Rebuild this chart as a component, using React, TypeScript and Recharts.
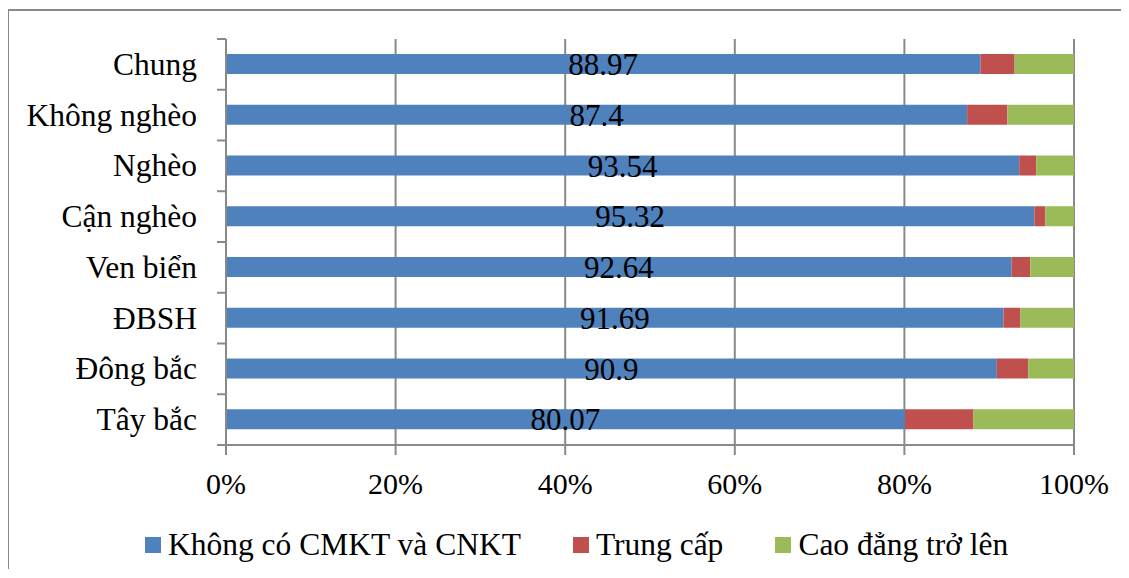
import React from "react";
import { BarChart, Bar, XAxis, YAxis, CartesianGrid, LabelList } from "recharts";

const categories = [
  "Chung",
  "Không nghèo",
  "Nghèo",
  "Cận nghèo",
  "Ven biển",
  "ĐBSH",
  "Đông bắc",
  "Tây bắc",
];
// share of workers by qualification level (%)
const noQualification = [88.97, 87.4, 93.54, 95.32, 92.64, 91.69, 90.9, 80.07];
const intermediate = [4.03, 4.75, 2.0, 1.3, 2.2, 2.0, 3.7, 8.07];
const college = [7.0, 7.85, 4.46, 3.38, 5.16, 6.31, 5.4, 11.86];
const xTicks = [0, 20, 40, 60, 80, 100];

const series = [
  { key: "none", name: "Không có CMKT và CNKT", color: "#4F81BD" },
  { key: "mid", name: "Trung cấp", color: "#C0504D" },
  { key: "high", name: "Cao đẳng trở lên", color: "#9BBB59" },
];

const data = categories.map((name, i) => ({
  name,
  none: noQualification[i],
  mid: intermediate[i],
  high: college[i],
}));

const FONT = "'Liberation Serif', 'Times New Roman', serif";
const AXIS_COLOR = "#898989";
const CHART_W = 1120;
const CHART_H = 558;
const MARGIN = { top: 28, right: 55, bottom: 0, left: 0 };
const X_AXIS_H = 124;
const BAND = (CHART_H - MARGIN.top - X_AXIS_H) / categories.length;

// category label plus Excel-style tick marks on the band edges
const CategoryTick = ({ x, y, payload, index }) => {
  const axisX = x + 29;
  return (
    <g>
      <line x1={axisX - 9} x2={axisX} y1={y - BAND / 2} y2={y - BAND / 2} stroke={AXIS_COLOR} strokeWidth={2} />
      {index === categories.length - 1 && (
        <line x1={axisX - 9} x2={axisX} y1={y + BAND / 2} y2={y + BAND / 2} stroke={AXIS_COLOR} strokeWidth={2} />
      )}
      <text x={x} y={y} dy="0.33em" textAnchor="end" fill="#000" fontSize={31.5} fontFamily={FONT}>
        {payload.value}
      </text>
    </g>
  );
};

const LegendRow = () => (
  <ul
    style={{
      position: "absolute",
      left: 136,
      top: 515,
      margin: 0,
      padding: 0,
      listStyle: "none",
      display: "flex",
      gap: 52,
      fontFamily: FONT,
      fontSize: 31.5,
      lineHeight: "38px",
    }}
  >
    {series.map((s) => (
      <li key={s.key} style={{ display: "flex", alignItems: "center", gap: 7 }}>
        <span style={{ display: "inline-block", width: 16, height: 16, backgroundColor: s.color }} />
        <span style={{ color: "#000" }}>{s.name}</span>
      </li>
    ))}
  </ul>
);

const App = () => {
  return (
    <div
      style={{
        position: "relative",
        marginLeft: -1,
        marginTop: 1,
        width: 1122,
        height: 560,
        boxSizing: "border-box",
        borderTop: `2px solid ${AXIS_COLOR}`,
        borderLeft: `2px solid ${AXIS_COLOR}`,
        background: "#fff",
      }}
    >
      <BarChart width={CHART_W} height={CHART_H} data={data} layout="vertical" margin={MARGIN} barSize={20}>
        <CartesianGrid horizontal={false} stroke={AXIS_COLOR} strokeWidth={2} />
        <XAxis
          type="number"
          domain={[0, 100]}
          ticks={xTicks}
          tickFormatter={(v) => `${v}%`}
          height={X_AXIS_H}
          tickSize={10}
          tickMargin={18}
          stroke={AXIS_COLOR}
          strokeWidth={2}
          tick={{ fill: "#000", fontSize: 30, fontFamily: FONT }}
          allowDataOverflow
        />
        <YAxis
          type="category"
          dataKey="name"
          width={217}
          tickSize={9}
          tickMargin={20}
          tickLine={false}
          stroke={AXIS_COLOR}
          strokeWidth={2}
          tick={<CategoryTick />}
          interval={0}
        />
        {series.map((s) => (
          <Bar key={s.key} dataKey={s.key} name={s.name} stackId="a" fill={s.color} isAnimationActive={false}>
            {s.key === "none" && (
              <LabelList dataKey="none" position="center" fill="#000" fontSize={31} fontFamily={FONT} />
            )}
          </Bar>
        ))}
      </BarChart>
      <LegendRow />
    </div>
  );
};

export default App;
